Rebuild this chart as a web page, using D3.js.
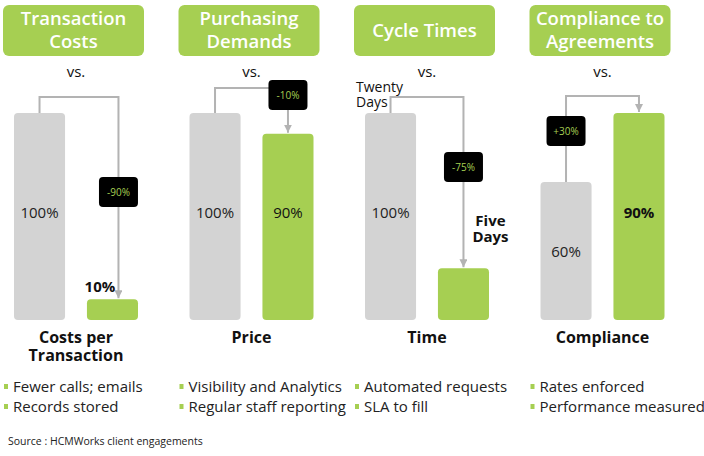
<!DOCTYPE html>
<html>
<head>
<meta charset="utf-8">
<title>HCMWorks results</title>
<script src="https://cdn.jsdelivr.net/npm/d3@7"></script>
<style>
  body { margin: 0; background: #fff; }
  svg { font-family: "Open Sans", sans-serif; }
</style>
</head>
<body>
<script>
// data
const titles = [["Transaction", "Costs"], ["Purchasing", "Demands"], ["Cycle Times"], ["Compliance to", "Agreements"]];
const categories = [["Costs per", "Transaction"], ["Price"], ["Time"], ["Compliance"]];
const before = [100, 100, 100, 60];
const after = [10, 90, 25, 90];
const beforeLabels = ["100%", "100%", "100%", "60%"];
const afterLabels = ["10%", "90%", "Five Days", "90%"];
const changes = ["-90%", "-10%", "-75%", "+30%"];
const bullets = [
  ["Fewer calls; emails", "Records stored"],
  ["Visibility and Analytics", "Regular staff reporting"],
  ["Automated requests", "SLA to fill"],
  ["Rates enforced", "Performance measured"]
];
const source = "Source : HCMWorks client engagements";

const green = "#a6cf52";
const grey = "#d3d3d3";
const lineCol = "#b3b3b3";

const w = 704, h = 456;
const baseY = 320, topY = 113;

const svg = d3.select("body").append("svg")
  .attr("width", w).attr("height", h);

svg.append("defs").append("marker")
  .attr("id", "arr")
  .attr("viewBox", "0 0 10 10")
  .attr("refX", 10).attr("refY", 5)
  .attr("markerWidth", 4).attr("markerHeight", 4)
  .attr("orient", "auto")
  .append("path").attr("d", "M0,0L10,5L0,10z").attr("fill", lineCol);

const idx = d3.range(4);
const xPanel = d3.scaleBand().domain(idx).range([3, 705]);
const xBar = d3.scaleBand().domain(["before", "after"]).range([11, 135]).paddingInner(0.3);
const bw = xBar.bandwidth();

// where the connector runs and where the badge sits
const linkY = [97, 88, 97, 96];
const badgeY = [192, 95, 167, 131];

idx.forEach(function (i) {
  const g = svg.append("g").attr("transform", "translate(" + xPanel(i) + ",0)");
  const y = d3.scaleLinear().domain([0, Math.max(before[i], after[i])]).range([baseY, topY]);
  const center = xBar("before") + (xBar("after") + bw - xBar("before")) / 2;

  // header
  g.append("rect").attr("x", 0).attr("y", 5).attr("width", 141).attr("height", 51)
    .attr("rx", 6).attr("fill", green);
  const t = titles[i];
  t.forEach(function (line, k) {
    g.append("text")
      .attr("x", 70.5)
      .attr("y", t.length === 1 ? 37 : 25 + k * 23)
      .attr("text-anchor", "middle")
      .attr("fill", "#fff")
      .attr("font-size", 18.5).attr("font-weight", 600)
      .text(line);
  });

  g.append("text").attr("x", center).attr("y", 77).attr("text-anchor", "middle")
    .attr("font-size", 15).attr("fill", "#111").text("vs.");

  // bars
  const bars = [
    { key: "before", v: before[i], c: grey },
    { key: "after", v: after[i], c: green }
  ];
  g.selectAll("rect.bar").data(bars).enter().append("rect")
    .attr("class", "bar")
    .attr("x", function (d) { return xBar(d.key); })
    .attr("y", function (d) { return y(d.v); })
    .attr("width", bw)
    .attr("height", function (d) { return baseY - y(d.v); })
    .attr("rx", 4)
    .attr("fill", function (d) { return d.c; });

  // connector
  const x1 = xBar("before") + bw / 2;
  const x2 = xBar("after") + bw / 2 + (i === 0 ? 6 : 0);
  g.append("path")
    .attr("d", "M" + x1 + "," + y(before[i]) + "V" + linkY[i] + "H" + x2 + "V" + (y(after[i]) - 1))
    .attr("fill", "none").attr("stroke", lineCol).attr("stroke-width", 2)
    .attr("marker-end", "url(#arr)");

  // badge
  const bx = i === 3 ? x1 : x2;
  g.append("rect").attr("x", bx - 19.5).attr("y", badgeY[i] - 15)
    .attr("width", 39).attr("height", 30).attr("rx", 4).attr("fill", "#000");
  g.append("text").attr("x", bx).attr("y", badgeY[i] + 4).attr("text-anchor", "middle")
    .attr("font-size", 10).attr("fill", green).text(changes[i]);

  // before label
  const bMid = (y(before[i]) + baseY) / 2;
  g.append("text").attr("x", x1).attr("y", (before[i] === y.domain()[1] ? 212 : bMid) + 6)
    .attr("text-anchor", "middle").attr("font-size", 15).attr("fill", "#222")
    .text(beforeLabels[i]);

  // after label
  const a = g.append("text").attr("font-size", 15).attr("fill", "#111");
  if (i === 0) {
    a.attr("x", xBar("after") + 13).attr("y", y(after[i]) - 7)
      .attr("text-anchor", "middle").attr("font-weight", 700).text(afterLabels[i]);
  } else if (i === 2) {
    a.attr("text-anchor", "middle").attr("font-weight", 700);
    afterLabels[i].split(" ").forEach(function (word, k) {
      a.append("tspan").attr("x", xBar("after") + bw / 2 + 27).attr("y", 226 + k * 16).text(word);
    });
  } else {
    a.attr("x", x2).attr("y", 218).attr("text-anchor", "middle")
      .attr("font-weight", i === 3 ? 700 : 400).text(afterLabels[i]);
  }

  if (i === 2) {
    g.append("text").attr("font-size", 14).attr("fill", "#111")
      .selectAll("tspan").data(["Twenty", "Days"]).enter().append("tspan")
      .attr("x", 2).attr("y", function (d, k) { return 92 + k * 15; })
      .text(function (d) { return d; });
  }

  // category
  categories[i].forEach(function (line, k) {
    g.append("text").attr("x", center).attr("y", 343 + k * 18)
      .attr("text-anchor", "middle").attr("font-size", 16).attr("font-weight", 700)
      .attr("fill", "#111").text(line);
  });

  // bullets
  bullets[i].forEach(function (b, k) {
    g.append("rect").attr("x", 1).attr("y", 384 + k * 20).attr("width", 4).attr("height", 5)
      .attr("fill", green);
    g.append("text").attr("x", 10).attr("y", 392 + k * 20)
      .attr("font-size", 15).attr("fill", "#222").text(b);
  });
});

svg.append("text").attr("x", 8).attr("y", 445).attr("font-size", 10.5)
  .attr("fill", "#222").text(source);
</script>
</body>
</html>
